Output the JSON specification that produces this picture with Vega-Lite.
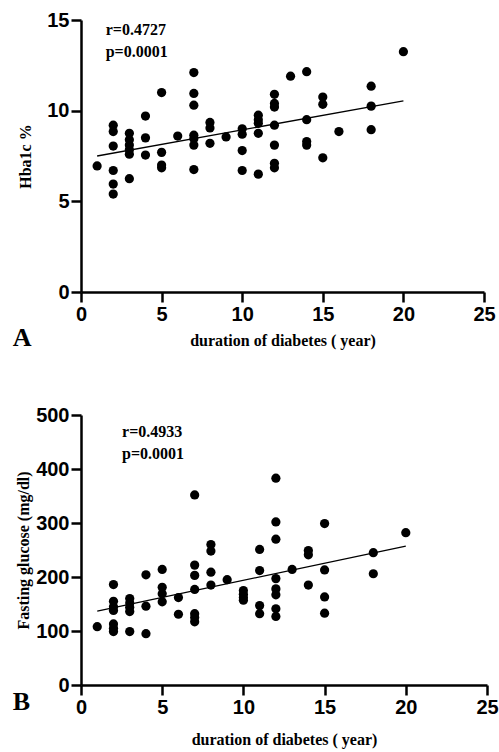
{
  "$schema": "https://vega.github.io/schema/vega-lite/v6.json",
  "background": "white",
  "padding": {"left": 12, "top": 10, "right": 0, "bottom": 5},
  "spacing": 54,
  "config": {
    "view": {"stroke": null},
    "axis": {
      "grid": false,
      "domainColor": "black",
      "domainWidth": 2.5,
      "tickColor": "black",
      "tickWidth": 2.5,
      "tickSize": 10,
      "labelFont": "Liberation Sans",
      "labelFontWeight": "bold",
      "labelFontSize": 20,
      "labelColor": "black",
      "labelPadding": 2,
      "labelFlush": false,
      "titleFont": "Liberation Serif",
      "titleFontWeight": "bold",
      "titleFontSize": 16,
      "titleColor": "black"
    }
  },
  "datasets": {
    "hba": [
      {"duration": 1, "value": 6.95},
      {"duration": 2, "value": 9.2}, {"duration": 2, "value": 8.85}, {"duration": 2, "value": 8.05}, {"duration": 2, "value": 6.7}, {"duration": 2, "value": 5.95}, {"duration": 2, "value": 5.4},
      {"duration": 3, "value": 8.75}, {"duration": 3, "value": 8.4}, {"duration": 3, "value": 8.1}, {"duration": 3, "value": 7.85}, {"duration": 3, "value": 7.6}, {"duration": 3, "value": 6.25},
      {"duration": 4, "value": 9.7}, {"duration": 4, "value": 8.5}, {"duration": 4, "value": 7.55},
      {"duration": 5, "value": 11.0}, {"duration": 5, "value": 7.7}, {"duration": 5, "value": 7.0}, {"duration": 5, "value": 6.85},
      {"duration": 6, "value": 8.6},
      {"duration": 7, "value": 12.1}, {"duration": 7, "value": 10.95}, {"duration": 7, "value": 10.3}, {"duration": 7, "value": 8.65}, {"duration": 7, "value": 8.45}, {"duration": 7, "value": 8.1}, {"duration": 7, "value": 6.75},
      {"duration": 8, "value": 9.35}, {"duration": 8, "value": 9.05}, {"duration": 8, "value": 8.2},
      {"duration": 9, "value": 8.55},
      {"duration": 10, "value": 9.0}, {"duration": 10, "value": 8.7}, {"duration": 10, "value": 7.8}, {"duration": 10, "value": 6.7},
      {"duration": 11, "value": 9.75}, {"duration": 11, "value": 9.5}, {"duration": 11, "value": 9.3}, {"duration": 11, "value": 8.75}, {"duration": 11, "value": 6.5},
      {"duration": 12, "value": 10.9}, {"duration": 12, "value": 10.4}, {"duration": 12, "value": 10.2}, {"duration": 12, "value": 9.2}, {"duration": 12, "value": 8.1}, {"duration": 12, "value": 7.1}, {"duration": 12, "value": 6.85},
      {"duration": 13, "value": 11.9},
      {"duration": 14, "value": 12.15}, {"duration": 14, "value": 9.5}, {"duration": 14, "value": 8.3}, {"duration": 14, "value": 8.1},
      {"duration": 15, "value": 10.75}, {"duration": 15, "value": 10.35}, {"duration": 15, "value": 7.4},
      {"duration": 16, "value": 8.85},
      {"duration": 18, "value": 11.35}, {"duration": 18, "value": 10.25}, {"duration": 18, "value": 8.95},
      {"duration": 20, "value": 13.25}
    ],
    "hbaFit": [
      {"duration": 1, "value": 7.5},
      {"duration": 20, "value": 10.54}
    ],
    "hbaStats": [
      {"duration": 1.53, "value": 14.2, "label": "r=0.4727"},
      {"duration": 1.53, "value": 12.98, "label": "p=0.0001"}
    ],
    "fg": [
      {"duration": 1, "value": 108},
      {"duration": 2, "value": 186}, {"duration": 2, "value": 155}, {"duration": 2, "value": 145}, {"duration": 2, "value": 138}, {"duration": 2, "value": 113}, {"duration": 2, "value": 105}, {"duration": 2, "value": 99},
      {"duration": 3, "value": 160}, {"duration": 3, "value": 152}, {"duration": 3, "value": 144}, {"duration": 3, "value": 136}, {"duration": 3, "value": 99},
      {"duration": 4, "value": 204}, {"duration": 4, "value": 146}, {"duration": 4, "value": 95},
      {"duration": 5, "value": 214}, {"duration": 5, "value": 181}, {"duration": 5, "value": 169}, {"duration": 5, "value": 154},
      {"duration": 6, "value": 162}, {"duration": 6, "value": 131},
      {"duration": 7, "value": 352}, {"duration": 7, "value": 222}, {"duration": 7, "value": 203}, {"duration": 7, "value": 177}, {"duration": 7, "value": 132}, {"duration": 7, "value": 125}, {"duration": 7, "value": 117},
      {"duration": 8, "value": 260}, {"duration": 8, "value": 248}, {"duration": 8, "value": 209}, {"duration": 8, "value": 185},
      {"duration": 9, "value": 195},
      {"duration": 10, "value": 175}, {"duration": 10, "value": 168}, {"duration": 10, "value": 162}, {"duration": 10, "value": 157},
      {"duration": 11, "value": 251}, {"duration": 11, "value": 212}, {"duration": 11, "value": 147}, {"duration": 11, "value": 132},
      {"duration": 12, "value": 383}, {"duration": 12, "value": 302}, {"duration": 12, "value": 270}, {"duration": 12, "value": 197}, {"duration": 12, "value": 178}, {"duration": 12, "value": 167}, {"duration": 12, "value": 141}, {"duration": 12, "value": 127},
      {"duration": 13, "value": 214},
      {"duration": 14, "value": 249}, {"duration": 14, "value": 241}, {"duration": 14, "value": 185},
      {"duration": 15, "value": 299}, {"duration": 15, "value": 213}, {"duration": 15, "value": 163}, {"duration": 15, "value": 133},
      {"duration": 18, "value": 245}, {"duration": 18, "value": 206},
      {"duration": 20, "value": 282}
    ],
    "fgFit": [
      {"duration": 1, "value": 136.7},
      {"duration": 20, "value": 257.2}
    ],
    "fgStats": [
      {"duration": 2.53, "value": 460, "label": "r=0.4933"},
      {"duration": 2.53, "value": 418, "label": "p=0.0001"}
    ]
  },
  "vconcat": [
    {
      "width": 403,
      "height": 272,
      "title": {"text": "A", "orient": "bottom", "anchor": "start", "frame": "bounds", "font": "Liberation Serif", "fontWeight": "bold", "fontSize": 26, "color": "black", "dx": -5, "dy": -27},
      "layer": [
        {
          "data": {"name": "hba"},
          "mark": {"type": "point", "shape": "circle", "filled": true, "size": 85, "color": "black", "opacity": 1},
          "encoding": {
            "x": {"field": "duration", "type": "quantitative", "scale": {"domain": [0, 25], "nice": false}, "axis": {"values": [0, 5, 10, 15, 20, 25], "title": "duration of diabetes ( year)", "titlePadding": 8}},
            "y": {"field": "value", "type": "quantitative", "scale": {"domain": [0, 15], "nice": false}, "axis": {"values": [0, 5, 10, 15], "title": "Hba1c %", "titlePadding": 13}}
          }
        },
        {
          "data": {"name": "hbaFit"},
          "mark": {"type": "line", "color": "black", "strokeWidth": 1.3},
          "encoding": {
            "x": {"field": "duration", "type": "quantitative"},
            "y": {"field": "value", "type": "quantitative"}
          }
        },
        {
          "data": {"name": "hbaStats"},
          "mark": {"type": "text", "align": "left", "baseline": "alphabetic", "font": "Liberation Serif", "fontWeight": "bold", "fontSize": 16, "color": "black"},
          "encoding": {
            "x": {"field": "duration", "type": "quantitative"},
            "y": {"field": "value", "type": "quantitative"},
            "text": {"field": "label"}
          }
        }
      ]
    },
    {
      "width": 406,
      "height": 270,
      "title": {"text": "B", "orient": "bottom", "anchor": "start", "frame": "bounds", "font": "Liberation Serif", "fontWeight": "bold", "fontSize": 26, "color": "black", "dx": -3, "dy": -62},
      "layer": [
        {
          "data": {"name": "fg"},
          "mark": {"type": "point", "shape": "circle", "filled": true, "size": 85, "color": "black", "opacity": 1},
          "encoding": {
            "x": {"field": "duration", "type": "quantitative", "scale": {"domain": [0, 25], "nice": false}, "axis": {"values": [0, 5, 10, 15, 20, 25], "title": "duration of diabetes ( year)", "titlePadding": 14}},
            "y": {"field": "value", "type": "quantitative", "scale": {"domain": [0, 500], "nice": false}, "axis": {"values": [0, 100, 200, 300, 400, 500], "title": "Fasting glucose (mg/dl)", "titlePadding": 4}}
          }
        },
        {
          "data": {"name": "fgFit"},
          "mark": {"type": "line", "color": "black", "strokeWidth": 1.3},
          "encoding": {
            "x": {"field": "duration", "type": "quantitative"},
            "y": {"field": "value", "type": "quantitative"}
          }
        },
        {
          "data": {"name": "fgStats"},
          "mark": {"type": "text", "align": "left", "baseline": "alphabetic", "font": "Liberation Serif", "fontWeight": "bold", "fontSize": 16, "color": "black"},
          "encoding": {
            "x": {"field": "duration", "type": "quantitative"},
            "y": {"field": "value", "type": "quantitative"},
            "text": {"field": "label"}
          }
        }
      ]
    }
  ]
}
